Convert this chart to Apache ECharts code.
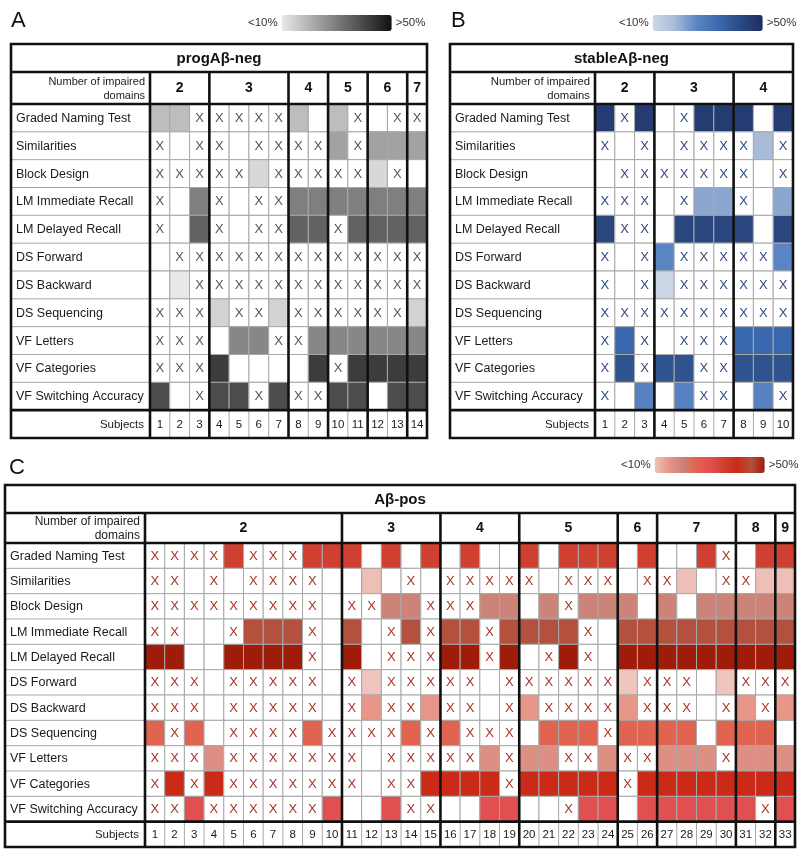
<!DOCTYPE html>
<html><head><meta charset="utf-8">
<script src="https://cdn.jsdelivr.net/npm/echarts@6/dist/echarts.min.js"></script>
<style>html,body{margin:0;padding:0;background:#fff}#c{width:800px;height:852px}</style>
</head><body><div id="c"></div>
<script>
// ---------- DATA ----------
const rowNames = ['Graded Naming Test','Similarities','Block Design','LM Immediate Recall','LM Delayed Recall','DS Forward','DS Backward','DS Sequencing','VF Letters','VF Categories','VF Switching Accuracy'];
// cell codes: c = impaired (coloured), x = not impaired (X), . = empty

// Panel A: progAβ-neg
const aTitle = 'progAβ-neg';
const aGroupLabels = ['2','3','4','5','6','7'];
const aGroupSizes = [3,4,2,2,2,1];
const aSubjects = ['1','2','3','4','5','6','7','8','9','10','11','12','13','14'];
const aRowPct = [18,23,13,29.5,35,10,10,14,28,42,39];
const aCells = [
 'ccxxxxxc.cx.xx',
 'x.xx.xxxxcxccc',
 'xxxxxcxxxxxcx.',
 'x.cx.xxccccccc',
 'x.cx.xxccxcccc',
 '.xxxxxxxxxxxxx',
 '.cxxxxxxxxxxxx',
 'xxxcxxcxxxxxxc',
 'xxx.ccxxcccccc',
 'xxxc....cxcccc',
 'c.xccxcxxcc.cc'
];

// Panel B: stableAβ-neg
const bTitle = 'stableAβ-neg';
const bGroupLabels = ['2','3','4'];
const bGroupSizes = [3,4,3];
const bSubjects = ['1','2','3','4','5','6','7','8','9','10'];
const bRowPct = [46,18,10,21,43,26,10.5,10,34,39.6,27];
const bCells = [
 'cxc.xccc.c',
 'x.x.xxxxcx',
 '.xxxxxxx.x',
 'xxx.xccx.c',
 'cxx.cccc.c',
 'x.xcxxxxxc',
 'x.xcxxxxxx',
 'xxxxxxxxxx',
 'xcx.xxxccc',
 'xcxccxxccc',
 'x.c.cxx.cx'
];

// Panel C: Aβ-pos
const cTitle = 'Aβ-pos';
const cGroupLabels = ['2','3','4','5','6','7','8','9'];
const cGroupSizes = [10,5,4,5,2,4,2,1];
const cSubjects = ['1','2','3','4','5','6','7','8','9','10','11','12','13','14','15','16','17','18','19','20','21','22','23','24','25','26','27','28','29','30','31','32','33'];
const cRowPct = [35,10.5,20,45,50,10,15,25,17,40,30];
const cCells = [
 'xxxxcxxxcc'+'c.c.c'+'.c..'+'c.ccc'+'.c'+'..cx'+'.c'+'c',
 'xx.x.xxxx.'+'.c.x.'+'xxxx'+'x.xxx'+'.x'+'xc.x'+'xc'+'c',
 'xxxxxxxxx.'+'xxccx'+'xxcc'+'.cxcc'+'c.'+'c.cc'+'cc'+'c',
 'xx..xcccx.'+'c.xcx'+'ccxc'+'cccx.'+'cc'+'cccc'+'cc'+'c',
 'cc..ccccx.'+'c.xxx'+'ccxc'+'.xcx.'+'cc'+'cccc'+'cc'+'c',
 'xxx.xxxxx.'+'xcxxx'+'xx.x'+'xxxxx'+'cx'+'xx.c'+'xx'+'x',
 'xxx.xxxxx.'+'xcxxc'+'xx.x'+'cxxxx'+'cx'+'xx.x'+'cx'+'c',
 'cxc.xxxxcx'+'xxxcx'+'cxxx'+'.cccx'+'cc'+'cc.c'+'cc'+'.',
 'xxxcxxxxxx'+'x.xxx'+'xxcx'+'ccxxc'+'xx'+'cccx'+'cc'+'c',
 'xcxcxxxxxx'+'x.xxc'+'cccx'+'ccccc'+'xc'+'cccc'+'cc'+'c',
 'xxcxxxxxxc'+'..cxx'+'..cc'+'..xcc'+'.c'+'cccc'+'cx'+'c'
];

const legendText = ['>50%','<10%'];

// ---------- STYLE ----------
const FONT = '"Liberation Sans", Arial, sans-serif';
const aScale = ['#e8e8e8','#111111'];
const bScale = ['#ccd8e4','#a8bbd9','#5b85c2','#3a68ae','#2a4a82','#1e2e60'];
const cScale = ['#eec4bc','#e8968a','#cc8478','#e06450','#e05050','#d04030','#cc2a18','#b4503e','#a01c0a'];

function buildCells(rows, pct){
  const out = [];
  rows.forEach((s, r) => {
    for (let c = 0; c < s.length; c++) {
      const ch = s[c];
      out.push([c, r, pct[r], ch === 'c' ? 1 : (ch === 'x' ? 2 : 0)]);
    }
  });
  return out;
}

function cellItem(xColor, xFont){
  return function(params, api){
    const p = api.coord([api.value(0), api.value(1)]);
    const s = api.size([1, 1]);
    const st = api.value(3);
    const x0 = p[0] - s[0]/2, y0 = p[1] - s[1]/2;
    const ch = [{type:'rect', shape:{x:x0, y:y0, width:s[0], height:s[1]},
      style:{fill: st === 1 ? api.visual('color') : '#ffffff', stroke:'#a8a8a8', lineWidth:1}}];
    if (st === 2) ch.push({type:'text', style:{text:'X', x:p[0], y:p[1]+0.5, align:'center', verticalAlign:'middle', fill:xColor, font:xFont}});
    return {type:'group', children:ch};
  };
}

function frameItem(cfg){
  return function(params, api){
    const s = api.size([1, 1]); const cw = s[0], rh = s[1];
    const c0 = api.coord([0, 0]);
    const gx0 = c0[0] - cw/2, gy0 = c0[1] - rh/2;
    const nC = cfg.subjects.length, nR = rowNames.length;
    const gx1 = gx0 + cw*nC, gyD = gy0 + rh*nR, gy1 = gyD + rh;
    const L = cfg.labelLeft;
    const domTop = gy0 - cfg.domH, titleTop = domTop - cfg.titleH;
    const ch = [];
    const thin = '#a8a8a8';
    // row label cells
    for (let r = 0; r < nR; r++) {
      const yc = api.coord([0, r])[1];
      ch.push({type:'line', shape:{x1:L, y1:yc + rh/2, x2:gx0, y2:yc + rh/2}, style:{stroke:thin, lineWidth:1}});
      ch.push({type:'text', style:{text:rowNames[r], x:L + cfg.labelPad, y:yc + 0.5, align:'left', verticalAlign:'middle', fill:'#1a1a1a', font:cfg.labelFont}});
    }
    // subjects row
    const ySub = api.coord([0, nR])[1];
    for (let i = 0; i < nC; i++) {
      const xc = api.coord([i, nR])[0];
      ch.push({type:'line', shape:{x1:xc + cw/2, y1:gyD, x2:xc + cw/2, y2:gy1}, style:{stroke:thin, lineWidth:1}});
      ch.push({type:'text', style:{text:cfg.subjects[i], x:xc, y:ySub + 0.5, align:'center', verticalAlign:'middle', fill:'#1a1a1a', font:cfg.subFont}});
    }
    ch.push({type:'text', style:{text:'Subjects', x:gx0 - 6, y:ySub + 0.5, align:'right', verticalAlign:'middle', fill:'#1a1a1a', font:cfg.subFont}});
    // title
    ch.push({type:'text', style:{text:cfg.title, x:(L + gx1)/2, y:titleTop + cfg.titleH/2 + 0.5, align:'center', verticalAlign:'middle', fill:'#111', font:'bold 15px ' + FONT}});
    // domains header
    ch.push({type:'text', style:{text:'Number of impaired\ndomains', x:gx0 - 5, y:domTop + cfg.domH/2 + 0.5, align:'right', verticalAlign:'middle', fill:'#222', font:cfg.domFont, lineHeight:14}});
    let acc = 0;
    const thick = {stroke:'#111', lineWidth:2.6};
    for (let g = 0; g < cfg.groupSizes.length; g++) {
      const xa = gx0 + acc*cw; acc += cfg.groupSizes[g]; const xb = gx0 + acc*cw;
      ch.push({type:'text', style:{text:cfg.groupLabels[g], x:(xa + xb)/2, y:domTop + cfg.domH/2 + 0.5, align:'center', verticalAlign:'middle', fill:'#111', font:'bold 14px ' + FONT}});
      if (g < cfg.groupSizes.length - 1) ch.push({type:'line', shape:{x1:xb, y1:domTop, x2:xb, y2:gy1}, style:thick});
    }
    // thick lines
    ch.push({type:'line', shape:{x1:gx0, y1:domTop, x2:gx0, y2:gy1}, style:thick});
    ch.push({type:'line', shape:{x1:L, y1:domTop, x2:gx1, y2:domTop}, style:thick});
    ch.push({type:'line', shape:{x1:L, y1:gy0, x2:gx1, y2:gy0}, style:thick});
    ch.push({type:'line', shape:{x1:L, y1:gyD, x2:gx1, y2:gyD}, style:thick});
    ch.push({type:'rect', shape:{x:L, y:titleTop, width:gx1 - L, height:gy1 - titleTop}, style:{fill:'none', stroke:'#111', lineWidth:2.6}});
    return {type:'group', children:ch};
  };
}

const yCats = rowNames.concat(['Subjects']);
const chart = echarts.init(document.getElementById('c'), null, {renderer:'canvas'});

const panels = [
  {title:aTitle, groupLabels:aGroupLabels, groupSizes:aGroupSizes, subjects:aSubjects, cells:aCells, pct:aRowPct,
   grid:{left:150, top:104, width:277, height:334}, labelLeft:11, labelPad:5, titleH:28, domH:32,
   labelFont:'12.5px ' + FONT, subFont:'11.5px ' + FONT, domFont:'11px ' + FONT, xColor:'#555555', xFont:'13px ' + FONT,
   scale:aScale, legend:{left:233, top:0}},
  {title:bTitle, groupLabels:bGroupLabels, groupSizes:bGroupSizes, subjects:bSubjects, cells:bCells, pct:bRowPct,
   grid:{left:595, top:104, width:198, height:334}, labelLeft:450, labelPad:5, titleH:28, domH:32,
   labelFont:'12.5px ' + FONT, subFont:'11.5px ' + FONT, domFont:'11.3px ' + FONT, xColor:'#2e4a7e', xFont:'13px ' + FONT,
   scale:bScale, legend:{left:604, top:0}},
  {title:cTitle, groupLabels:cGroupLabels, groupSizes:cGroupSizes, subjects:cSubjects, cells:cCells, pct:cRowPct,
   grid:{left:145, top:543, width:650, height:304}, labelLeft:5, labelPad:5, titleH:28, domH:30,
   labelFont:'12.5px ' + FONT, subFont:'11.5px ' + FONT, domFont:'12px ' + FONT, xColor:'#a83224', xFont:'13px ' + FONT,
   scale:cScale, legend:{left:606, top:442}}
];

const option = {
  animation:false,
  title:[
    {text:'A', left:6, top:5, textStyle:{fontSize:22, fontWeight:'normal', color:'#111', fontFamily:FONT}},
    {text:'B', left:446, top:5, textStyle:{fontSize:22, fontWeight:'normal', color:'#111', fontFamily:FONT}},
    {text:'C', left:4, top:452, textStyle:{fontSize:22, fontWeight:'normal', color:'#111', fontFamily:FONT}}
  ],
  grid: panels.map(p => p.grid),
  xAxis: panels.map((p, i) => ({type:'category', gridIndex:i, data:p.subjects, show:false})),
  yAxis: panels.map((p, i) => ({type:'category', gridIndex:i, data:yCats, inverse:true, show:false})),
  visualMap: panels.map((p, i) => ({
    type:'continuous', seriesIndex:i*2, dimension:2, min:10, max:50, orient:'horizontal',
    left:p.legend.left, top:p.legend.top, itemWidth:16, itemHeight:110, text:legendText, textGap:4,
    calculable:false, inRange:{color:p.scale}, textStyle:{fontSize:11.5, color:'#333', fontFamily:FONT}
  })),
  series: []
};
panels.forEach((p, i) => {
  option.series.push({type:'custom', xAxisIndex:i, yAxisIndex:i, renderItem:cellItem(p.xColor, p.xFont),
    data:buildCells(p.cells, p.pct), encode:{x:0, y:1}, silent:true});
  option.series.push({type:'custom', xAxisIndex:i, yAxisIndex:i, renderItem:frameItem(p),
    data:[[0, 0]], encode:{x:0, y:1}, silent:true});
});
chart.setOption(option);
</script>
</body></html>
